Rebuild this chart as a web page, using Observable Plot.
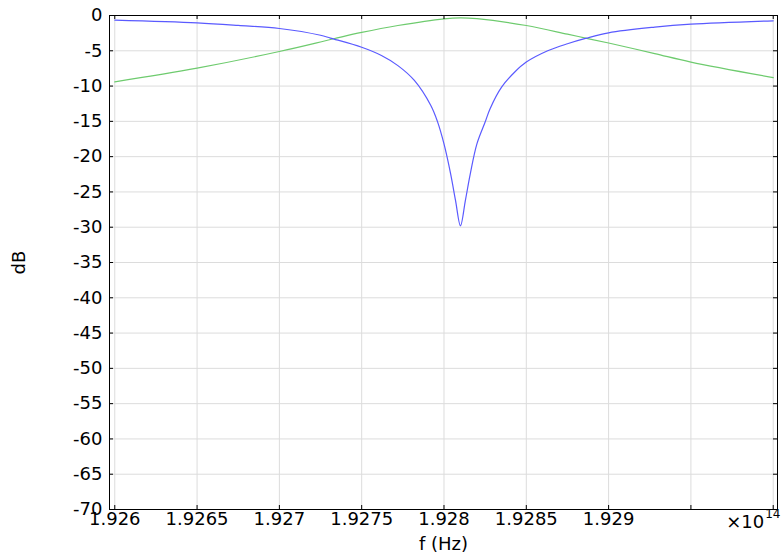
<!DOCTYPE html>
<html><head><meta charset="utf-8">
<script src="https://cdn.jsdelivr.net/npm/d3@7"></script>
<script src="https://cdn.jsdelivr.net/npm/@observablehq/plot@0.6"></script>
<style>body{margin:0;background:#fff}</style>
</head><body><div id="chart"></div>
<script>
// frequency in units of 1e14 Hz
const blueF  = [1.92600, 1.92650, 1.92675, 1.92700, 1.92725, 1.92731, 1.92750, 1.92762, 1.92772, 1.92782, 1.92792, 1.92796, 1.92800, 1.92804, 1.92807, 1.92810, 1.92813, 1.92816, 1.92820, 1.92825, 1.92828, 1.92835, 1.92843, 1.92850, 1.92863, 1.92875, 1.92886, 1.92900, 1.92928, 1.92950, 1.93000];
const blueDB = [-0.65, -1.04, -1.4, -1.84, -2.8, -3.2, -4.5, -5.67, -7.1, -9.2, -12.75, -15.0, -18.2, -22.4, -26.2, -29.8, -26.2, -22.4, -18.2, -15.1, -13.2, -10.15, -8.0, -6.6, -5.0, -4.0, -3.25, -2.45, -1.65, -1.23, -0.75];
const greenF  = [1.92600, 1.92650, 1.92700, 1.92733, 1.92750, 1.92772, 1.92800, 1.92810, 1.92820, 1.92850, 1.92875, 1.92886, 1.92900, 1.92928, 1.92950, 1.93000];
const greenDB = [-9.4, -7.46, -5.1, -3.3, -2.4, -1.42, -0.47, -0.33, -0.45, -1.42, -2.65, -3.2, -3.9, -5.4, -6.6, -8.8];
const xTicks = [1.926, 1.9265, 1.927, 1.9275, 1.928, 1.9285, 1.929, 1.9295, 1.93];
const xTickLabels = ["1.926", "1.9265", "1.927", "1.9275", "1.928", "1.9285", "1.929", "", ""];
const yTicks = [0, -5, -10, -15, -20, -25, -30, -35, -40, -45, -50, -55, -60, -65, -70];
const xLabel = "f (Hz)";
const yLabel = "dB";
const multiplier = "×10";
const exponent = "14";

const blue = blueF.map((f, i) => ({f, db: blueDB[i]}));
const green = greenF.map((f, i) => ({f, db: greenDB[i]}));

const W = 781, H = 556, mL = 109, mR = 4, mT = 15, mB = 47;
const pw = W - mL - mR, ph = H - mT - mB;

const chart = Plot.plot({
  width: W, height: H,
  marginLeft: mL, marginRight: mR, marginTop: mT, marginBottom: mB,
  style: {fontFamily: "'DejaVu Sans', sans-serif", fontSize: "18px", color: "#000", background: "#fff", overflow: "visible"},
  x: {domain: [1.925968, 1.930026]},
  y: {domain: [-70, 0]},
  marks: [
    Plot.gridX(xTicks, {stroke: "#dcdcdc", strokeOpacity: 1}),
    Plot.gridY(yTicks, {stroke: "#dcdcdc", strokeOpacity: 1}),
    Plot.line(green, {x: "f", y: "db", stroke: "#6ecb6e", strokeWidth: 1.2, curve: "catmull-rom"}),
    Plot.line(blue, {x: "f", y: "db", stroke: "#5a5aff", strokeWidth: 1.2, curve: "catmull-rom"}),
    Plot.tickX(xTicks, {x: d => d, insetTop: ph - 4, stroke: "#000"}),
    Plot.tickX(xTicks, {x: d => d, insetBottom: ph - 4, stroke: "#000"}),
    Plot.tickY(yTicks, {y: d => d, insetRight: pw - 4, stroke: "#000"}),
    Plot.tickY(yTicks, {y: d => d, insetLeft: pw - 4, stroke: "#000"}),
    Plot.frame({stroke: "#000"}),
    Plot.axisX(xTicks, {tickSize: 0, tickPadding: 3, tickFormat: d => xTickLabels[xTicks.indexOf(d)],
      label: xLabel, labelAnchor: "center", labelOffset: 40, labelArrow: "none"}),
    Plot.axisY(yTicks, {tickSize: 0, tickPadding: 7, tickFormat: d => String(d),
      label: yLabel, labelAnchor: "center", labelOffset: 97, labelArrow: "none"}),
    Plot.text([multiplier], {x: () => xTicks[xTicks.length - 1], y: () => yTicks[yTicks.length - 1], text: d => d, textAnchor: "end", dx: -9, dy: 13}),
    Plot.text([exponent], {x: () => xTicks[xTicks.length - 1], y: () => yTicks[yTicks.length - 1], text: d => d, textAnchor: "start", dx: -8, dy: 5, fontSize: 12})
  ]
});
document.getElementById("chart").appendChild(chart);
</script>
</body></html>
